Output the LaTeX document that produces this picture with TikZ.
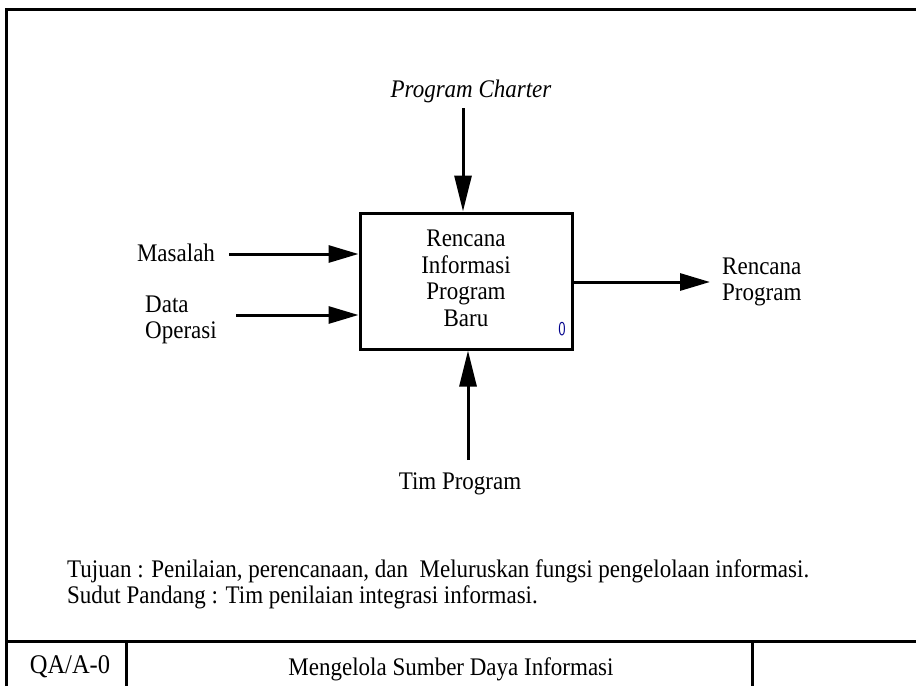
\documentclass[tikz,border=0pt]{standalone}
\usepackage{graphicx}
\usepackage{fontspec}
\setmainfont{Liberation Serif}
\usetikzlibrary{arrows.meta}
% slightly tall lettering
\newcommand{\tl}[1]{\scalebox{1}[1.1]{#1}}
\begin{document}
\begin{tikzpicture}[x=1pt,y=-1pt,
  frameline/.style={line width=3pt},
  flow/.style={line width=3pt,-{Triangle[length=30pt,width=17pt]}},
  vflow/.style={line width=3pt,-{Triangle[length=36pt,width=17pt]}},
  label/.style={font=\fontsize{23}{26.5}\selectfont,inner sep=0pt,align=center},
  activity/.style={draw,line width=3pt,minimum width=212pt,minimum height=136pt,
    align=center,font=\fontsize{23}{26.5}\selectfont}]
\useasboundingbox (0,0) rectangle (916,686);
\fill[white] (0,0) rectangle (916,686);
% form frame
\draw[frameline] (6,686) -- (6,9) -- (916,9);
\draw[frameline] (6,641) -- (916,641);
\draw[frameline] (126,641) -- (126,686);
\draw[frameline] (752,641) -- (752,686);
% activity box
\node[activity] (act) at (466,281) {\raisebox{3pt}{\begin{tabular}{@{}c@{}}\tl{Rencana}\\\tl{Informasi}\\\tl{Program}\\\tl{Baru}\end{tabular}}};
\node[font=\fontsize{15}{15}\selectfont\sffamily,text=blue!55!black,inner sep=0pt] (num) at (562,329) {\scalebox{1}[1.3]{0}};
% control
\node[label,font=\fontsize{23}{26}\selectfont\itshape] (ctl) at (471,91) {\tl{Program Charter}};
\draw[vflow] (463,108) -- (act.north -| 463,0);
% inputs
\node[label] (in1) at (176,253) {\tl{Masalah}};
\coordinate (in1s) at (229,254);
\draw[flow] (in1s) -- (in1s -| act.west);
\node[label,align=left,anchor=west] (in2) at (145,320) {\tl{Data}\\\tl{Operasi}};
\coordinate (in2s) at (236,315);
\draw[flow] (in2s) -- (in2s -| act.west);
% output
\coordinate (outs) at (572,282);
\coordinate (oute) at (710,282);
\draw[flow] (act.east |- outs) -- (oute);
\node[label,align=left,anchor=west] (out) at (722,282) {\tl{Rencana}\\\tl{Program}};
% mechanism
\node[label] (mech) at (460,484) {\tl{Tim Program}};
\coordinate (mechs) at (468,460);
\draw[vflow] (mechs) -- (mechs |- act.south);
% purpose and viewpoint
\node[label,align=left,anchor=west,font=\fontsize{23}{26}\selectfont] (purpose) at (67,584)
  {\tl{Tujuan : Penilaian, perencanaan, dan\ \ Meluruskan fungsi pengelolaan informasi.}\\
   \tl{Sudut Pandang : Tim penilaian integrasi informasi.}};
% title block
\node[font=\fontsize{24.5}{24.5}\selectfont,inner sep=0pt] (nodeno) at (70,667) {\tl{QA/A-0}};
\node[font=\fontsize{23}{23}\selectfont,inner sep=0pt] (title) at (451,669) {\tl{Mengelola Sumber Daya Informasi}};
\end{tikzpicture}
\end{document}
